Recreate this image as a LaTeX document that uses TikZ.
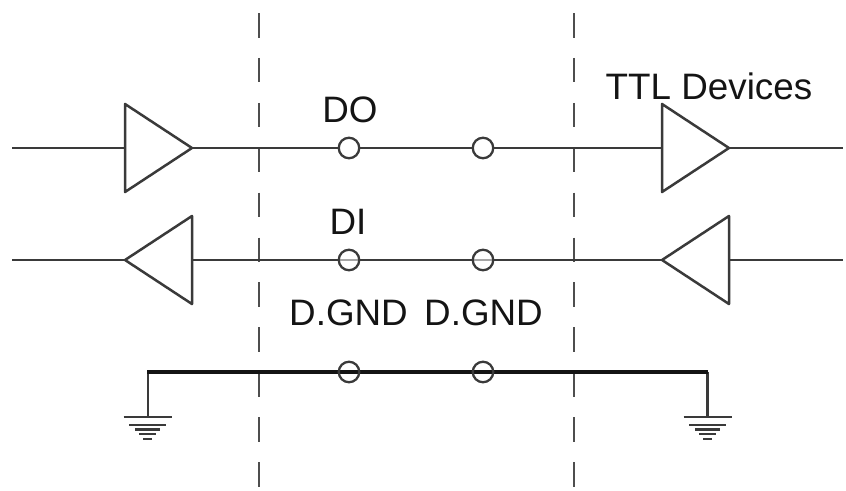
\documentclass[tikz,border=0pt]{standalone}
\usepackage{fontspec}
\setmainfont{Liberation Sans}
\definecolor{ink}{HTML}{3A3A3A}
\begin{document}
\begin{tikzpicture}[x=1pt,y=-1pt,
  wire/.style={line width=2.2pt,draw=ink},
  gwire/.style={line width=3.4pt,draw=black!92},
  sep/.style={line width=2.1pt,draw=ink!90,dash pattern=on 24.5pt off 20.4pt},
  tri/.style={line width=2.5pt,draw=ink,fill=white,line join=round},
  pin/.style={circle,draw=ink,line width=2.3pt,minimum size=20.5pt,inner sep=0pt},
  lab/.style={font=\fontsize{36.8}{40}\selectfont,text=black!92,inner sep=0pt,anchor=base},
  bar/.style={draw=ink,line width=2pt}]
\useasboundingbox (0,0) rectangle (846,490);
\coordinate (l1) at (12,148); \coordinate (r1) at (843,148);
\coordinate (l2) at (12,260); \coordinate (r2) at (843,260);
\coordinate (s1a) at (259,13); \coordinate (s1b) at (259,490);
\coordinate (s2a) at (574,13); \coordinate (s2b) at (574,490);
\draw[sep] (s1a)--(s1b); \draw[sep] (s2a)--(s2b);
\draw[wire] (l1)--(r1); \draw[wire] (l2)--(r2);
\draw[tri] (125,104)--(192,148)--(125,192)--cycle;
\draw[tri] (662,104)--(729,148)--(662,192)--cycle;
\draw[tri] (192,216)--(125,260)--(192,304)--cycle;
\draw[tri] (729,216)--(662,260)--(729,304)--cycle;
\node[pin,fill=white] (a1) at (349,148) {};
\node[pin,fill=white] (b1) at (483,148) {};
\node[pin,fill=white,fill opacity=0.55] (a2) at (349,260) {};
\node[pin,fill=white,fill opacity=0.55] (b2) at (483,260) {};
\coordinate (g1) at (147,372); \coordinate (g2) at (708,372);
\coordinate (g1b) at (148,417); \coordinate (g2b) at (707.5,417);
\draw[wire] (148,372)--(g1b); \draw[wire] (707.5,372)--(g2b);
\draw[gwire] (g1)--(g2);
\node[pin] (a3) at (349,372) {};
\node[pin] (b3) at (483,372) {};
\foreach \x in {147.5,707.5}{
  \draw[bar] (\x-24,417)--(\x+24,417);
  \draw[bar] (\x-18.5,425)--(\x+18.5,425);
  \draw[bar,line width=2.8pt] (\x-12.5,429.5)--(\x+12.5,429.5);
  \draw[bar] (\x-8.5,434)--(\x+8.5,434);
  \draw[bar] (\x-4.5,439)--(\x+4.5,439);
}
\node[lab] (t1) at (350,122) {DO};
\node[lab] (t2) at (348,234) {DI};
\node[lab] (t3) at (348.5,325) {D.GND};
\node[lab] (t4) at (483.5,325) {D.GND};
\node[lab] (t5) at (709,99.5) {TTL Devices};
\end{tikzpicture}
\end{document}
